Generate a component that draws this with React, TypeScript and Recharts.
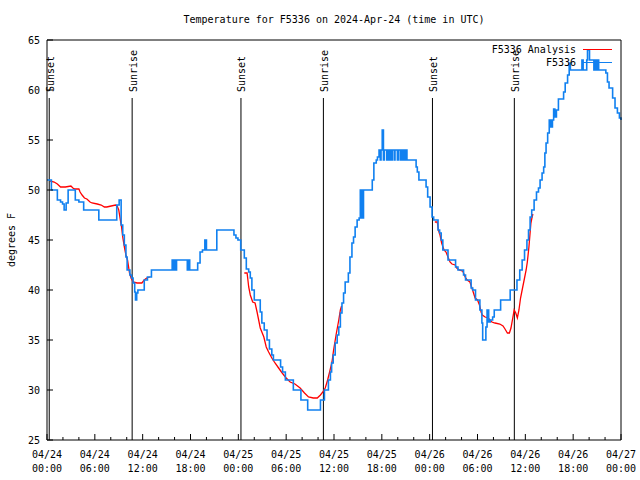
import React from 'react';
import { LineChart, Line, XAxis, YAxis, ReferenceLine } from 'recharts';

// observed temperature, [hour since 04/24 00:00 UTC, degF], held until next reading
const obsDay1: [number, number][] = [
  [0, 51], [0.55, 50], [1.3, 49], [1.7, 48.8], [1.95, 48.6], [2.15, 48], [2.4, 48.7], [2.65, 50],
  [3.55, 49], [4.0, 48.8], [4.6, 48], [6.5, 47], [8.75, 48.5], [9.05, 49], [9.3, 46.5], [9.5, 45.5],
  [9.7, 44.5], [9.9, 43.3], [10.05, 42], [10.4, 41.5], [10.6, 41.2], [10.8, 40.7], [11.0, 39.8],
  [11.1, 39], [11.25, 39.7], [11.4, 40], [12.2, 41], [12.6, 41.3], [13.1, 42], [15.7, 43], [15.85, 42],
  [16.0, 43], [16.1, 42], [16.25, 43], [17.6, 42], [17.75, 43], [17.9, 42], [18.9, 42.7], [19.2, 43.8],
  [19.5, 44], [19.8, 45], [20.0, 44], [21.3, 46], [23.45, 45.5], [23.7, 45.2], [23.95, 45],
];
const obsDay2: [number, number][] = [
  [24.3, 44], [24.75, 43.2], [25.0, 42.1], [25.3, 41.8], [25.5, 41.2], [25.7, 40], [26.0, 39],
  [26.75, 37.8], [26.95, 36.7], [27.25, 36], [27.6, 35], [27.9, 34.1], [28.2, 33.5], [28.4, 33],
  [29.3, 32.3], [29.55, 31.8], [29.9, 31], [30.9, 30], [31.85, 29], [32.7, 28], [34.3, 29], [34.8, 30],
  [35.3, 31], [35.55, 31.8], [35.7, 32.7], [35.9, 33.5], [36.15, 34.7], [36.4, 35.5], [36.6, 36.3],
  [36.8, 37.7], [37.0, 38.7], [37.2, 39.7], [37.4, 40.8], [37.8, 41.7], [38.0, 43.3], [38.25, 44.7],
  [38.45, 45.3], [38.65, 46.3], [38.9, 47], [39.15, 47.2], [39.3, 50], [39.4, 47.2], [39.5, 50],
  [39.6, 47.2], [39.7, 50], [40.8, 51], [41.0, 52.7], [41.3, 53], [41.45, 53.3], [41.65, 54], [41.8, 53],
  [41.9, 54], [42.05, 56], [42.2, 53], [42.3, 54], [42.6, 53], [42.7, 54], [42.9, 53], [43.0, 54],
  [43.2, 53], [43.3, 54], [43.55, 53], [43.65, 54], [43.95, 53], [44.05, 54], [44.3, 53], [44.4, 54],
  [44.55, 53], [44.65, 54], [44.85, 53], [44.95, 54], [45.15, 53], [46.3, 52.3], [46.45, 51.8],
  [46.65, 51], [47.55, 50.3], [47.75, 49.3], [48.05, 48.3],
];
const obsDay3: [number, number][] = [
  [48.3, 47.3], [48.5, 47], [49.05, 46], [49.25, 45.7], [49.45, 45], [49.65, 44], [50.3, 43],
  [51.25, 42.3], [51.55, 42], [52.25, 41.5], [52.5, 41], [53.2, 40.2], [53.4, 40], [53.75, 39],
  [54.3, 38], [54.55, 36.7], [54.65, 35], [55.05, 36.3], [55.2, 38], [55.4, 36.8], [55.6, 37],
  [55.9, 37.3], [56.1, 38], [56.9, 39], [58.1, 40], [58.95, 41], [59.3, 42], [59.6, 43], [59.9, 44],
  [60.2, 45], [60.4, 46], [60.6, 47.3], [60.8, 48], [61.1, 49], [61.4, 49.8], [61.65, 50.2], [61.85, 51],
  [62.1, 51.7], [62.3, 52.3], [62.45, 53.7], [62.6, 54.7], [62.8, 55.7], [63.0, 57], [63.2, 56.3],
  [63.4, 57], [63.55, 58.1], [63.7, 57.3], [63.9, 58], [64.15, 59.1], [64.8, 59.8], [65.0, 60.7],
  [65.3, 61.5], [65.5, 62.7], [65.65, 62], [67.1, 63], [67.25, 62], [67.7, 63], [67.8, 64], [68.05, 63],
  [68.6, 62], [68.7, 63], [68.9, 62], [69.05, 63], [69.2, 62], [70.1, 61.7], [70.3, 60.8], [70.5, 60.2],
  [70.95, 59.2], [71.25, 58.2], [71.55, 57.7], [71.8, 57.2], [72, 57],
];

// analysis runs, each ~12 h long
const anaRun1: [number, number][] = [
  [0.4, 50.9], [0.9, 50.8], [1.3, 50.6], [1.7, 50.3], [2.3, 50.3], [3.0, 50.4], [3.25, 50.2], [3.45, 50.1],
  [4.0, 50.1], [4.15, 49.8], [4.4, 49.5], [4.7, 49.2], [5.0, 49.1], [5.4, 48.8], [5.65, 48.7], [6.3, 48.6],
  [6.8, 48.5], [7.2, 48.3], [7.5, 48.3], [8.05, 48.4], [8.6, 48.5], [8.8, 48.4], [9.0, 48], [9.2, 47],
  [9.35, 46.3], [9.5, 45.3], [9.7, 44.3], [9.9, 43.5], [10.1, 43], [10.35, 41.7], [10.55, 41.2],
  [10.8, 40.8], [11.3, 40.7], [11.9, 40.7], [12.2, 41], [12.5, 41.2], [12.9, 41.3],
];
const anaRun2: [number, number][] = [
  [24.75, 41.7], [25.1, 41.7], [25.3, 40.3], [25.5, 39.5], [25.8, 38.8], [26.1, 38.7], [26.35, 37.8],
  [26.75, 36.2], [27.2, 35.3], [27.5, 34.3], [27.8, 33.8], [28.2, 33.2], [28.6, 32.7], [29.05, 32.2],
  [29.5, 31.7], [30.0, 31.2], [30.5, 30.8], [31.1, 30.6], [31.75, 30.2], [32.3, 29.7], [32.8, 29.3],
  [33.4, 29.2], [33.9, 29.2], [34.3, 29.5], [34.6, 29.8], [34.9, 30.2], [35.2, 31], [35.45, 31.8],
  [35.75, 32.8], [35.95, 34], [36.3, 35.7], [36.6, 37], [36.8, 38], [36.95, 38.4],
];
const anaRun3: [number, number][] = [
  [48.65, 46.8], [48.95, 46.8], [49.1, 46], [49.3, 45.5], [49.5, 44.7], [49.8, 44], [50.05, 43.8],
  [50.35, 43.2], [50.55, 42.8], [50.8, 42.6], [51.2, 42.5], [51.4, 42.2], [51.7, 42], [52.15, 41.9],
  [52.45, 41.3], [52.7, 41], [53.05, 40.8], [53.3, 40.2], [53.5, 39.7], [53.7, 39.2], [54.0, 39],
  [54.25, 38.5], [54.45, 37.8], [54.6, 37.5], [54.95, 37.3], [55.35, 37.2], [55.8, 36.8], [56.2, 36.7],
  [56.8, 36.6], [57.2, 36.4], [57.45, 36.1], [57.75, 35.7], [58.0, 35.7], [58.2, 36.2], [58.4, 37.1],
  [58.6, 38], [58.8, 37.7], [59.0, 37.2], [59.2, 38], [59.4, 39.2], [59.65, 40.2], [59.9, 41.2],
  [60.1, 42], [60.25, 42.8], [60.45, 44.3], [60.7, 46.7], [60.85, 47.3], [60.95, 47.6],
];

const eventHours = [0.28, 10.68, 24.33, 34.67, 48.35, 58.62];
const eventNames = ['Sunset', 'Sunrise', 'Sunset', 'Sunrise', 'Sunset', 'Sunrise'];
const eventLineTop = 59.2;

const xTicks = Array.from({ length: 37 }, (_, i) => i * 2);
const yTicks = [25, 30, 35, 40, 45, 50, 55, 60, 65];

const ANA = { name: 'F5336 Analysis', color: '#ff0000' };
const OBS = { name: 'F5336', color: '#1080f0' };

const W = 640;
const H = 480;
// axes are 1px thick, so plot box is 47..621 x 40..440
const M = { top: 39, right: 18, bottom: 39, left: 46 };
const TOP = 40;
const BOTTOM = 440;
const LEFT = 47;
const RIGHT = 621;
const FONT = '"DejaVu Sans Mono", monospace';

const toRows = (pts: [number, number][]) => pts.map(([h, t]) => ({ h, t }));
const obsData = toRows([...obsDay1, ...obsDay2, ...obsDay3]);
const anaData = [
  ...toRows(anaRun1), { h: 13, t: null },
  ...toRows(anaRun2), { h: 37, t: null },
  ...toRows(anaRun3),
];

const pad = (n: number) => (n < 10 ? '0' + n : '' + n);

const BottomTick = (p: any) => {
  const v = p.payload.value;
  const major = v % 6 === 0;
  const day = 24 + Math.floor(v / 24);
  return (
    <g>
      <line x1={p.x} x2={p.x} y1={BOTTOM} y2={BOTTOM - (major ? 6 : 3)} stroke="#000" />
      {major && (
        <text x={p.x} textAnchor="middle" fontFamily={FONT} fontSize={10} fill="#000">
          <tspan x={p.x} y={BOTTOM + 17.5}>{`04/${day}`}</tspan>
          <tspan x={p.x} y={BOTTOM + 31.5}>{`${pad(v % 24)}:00`}</tspan>
        </text>
      )}
    </g>
  );
};

const TopTick = (p: any) => {
  const major = p.payload.value % 6 === 0;
  return <line x1={p.x} x2={p.x} y1={TOP} y2={TOP + (major ? 6 : 3)} stroke="#000" />;
};

const LeftTick = (p: any) => (
  <g>
    <line x1={LEFT} x2={LEFT + 6} y1={p.y} y2={p.y} stroke="#000" />
    <text x={LEFT - 7} y={p.y} dy="0.35em" textAnchor="end" fontFamily={FONT} fontSize={10} fill="#000">
      {p.payload.value}
    </text>
  </g>
);

const RightTick = (p: any) => <line x1={RIGHT} x2={RIGHT - 6} y1={p.y} y2={p.y} stroke="#000" />;

const eventLabel = (name: string) => (props: any) => {
  const vb = props.viewBox || {};
  const x = vb.x + 1;
  const y = vb.y - 6;
  return (
    <text
      x={x}
      y={y}
      transform={`rotate(-90, ${x}, ${y})`}
      dy="0.35em"
      fontFamily={FONT}
      fontSize={10}
      fill="#000"
    >
      {name}
    </text>
  );
};

export default function App() {
  return (
    <div style={{ position: 'absolute', left: 0, top: 0, width: W, height: H, background: '#fff' }}>
      <LineChart width={W} height={H} margin={M}>
        <XAxis
          dataKey="h"
          type="number"
          domain={[0, 72]}
          ticks={xTicks}
          interval={0}
          height={1}
          tickSize={0}
          axisLine={{ stroke: '#000' }}
          tickLine={false}
          tick={(p: any) => <BottomTick {...p} />}
        />
        <XAxis
          xAxisId="top"
          orientation="top"
          dataKey="h"
          type="number"
          domain={[0, 72]}
          ticks={xTicks}
          interval={0}
          height={1}
          tickSize={0}
          axisLine={{ stroke: '#000' }}
          tickLine={false}
          tick={(p: any) => <TopTick {...p} />}
        />
        <YAxis
          type="number"
          domain={[25, 65]}
          ticks={yTicks}
          interval={0}
          width={1}
          tickSize={0}
          axisLine={{ stroke: '#000' }}
          tickLine={false}
          tick={(p: any) => <LeftTick {...p} />}
        />
        <YAxis
          yAxisId="right"
          orientation="right"
          type="number"
          domain={[25, 65]}
          ticks={yTicks}
          interval={0}
          width={1}
          tickSize={0}
          axisLine={{ stroke: '#000' }}
          tickLine={false}
          tick={(p: any) => <RightTick {...p} />}
        />
        {eventHours.map((h, i) => (
          <ReferenceLine
            key={i}
            segment={[{ x: h, y: 25 }, { x: h, y: eventLineTop }]}
            stroke="#000"
            strokeWidth={1}
            label={eventLabel(eventNames[i])}
          />
        ))}
        <Line
          data={anaData}
          dataKey="t"
          name={ANA.name}
          type="linear"
          stroke={ANA.color}
          strokeWidth={1.3}
          dot={false}
          isAnimationActive={false}
        />
        <Line
          data={obsData}
          dataKey="t"
          name={OBS.name}
          type="stepAfter"
          stroke={OBS.color}
          strokeWidth={1.6}
          dot={false}
          isAnimationActive={false}
        />
      </LineChart>
      <div
        style={{
          position: 'absolute', left: LEFT, width: RIGHT - LEFT, top: 13, textAlign: 'center',
          fontFamily: FONT, fontSize: 10, lineHeight: '14px', color: '#000',
        }}
      >
        Temperature for F5336 on 2024-Apr-24 (time in UTC)
      </div>
      <div
        style={{
          position: 'absolute', left: 11, top: (TOP + BOTTOM) / 2, transform: 'translate(-50%, -50%) rotate(-90deg)',
          fontFamily: FONT, fontSize: 10, whiteSpace: 'nowrap', color: '#000',
        }}
      >
        degrees F
      </div>
      <div style={{ position: 'absolute', right: W - RIGHT + 9, top: 43, fontFamily: FONT, fontSize: 10, color: '#000' }}>
        {[ANA, OBS].map((s) => (
          <div key={s.name} style={{ display: 'flex', justifyContent: 'flex-end', alignItems: 'center', height: 13 }}>
            <span style={{ whiteSpace: 'nowrap' }}>{s.name}</span>
            <span style={{ display: 'inline-block', width: 29, height: 0, borderTop: `1.5px solid ${s.color}`, marginLeft: 7 }} />
          </div>
        ))}
      </div>
    </div>
  );
}
